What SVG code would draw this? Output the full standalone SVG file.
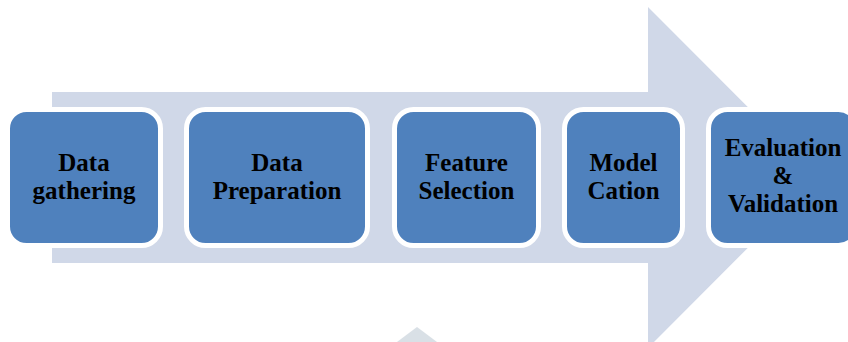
<svg xmlns="http://www.w3.org/2000/svg" width="848" height="342" viewBox="0 0 848 342">
  <style>
    .box { fill: #4f81bd; stroke: #ffffff; stroke-width: 5; }
    .lbl { font-family: "Liberation Serif", "Times New Roman", serif; font-weight: bold; font-size: 25px; fill: #000000; text-anchor: middle; }
  </style>
  <rect x="0" y="0" width="848" height="342" fill="#ffffff"/>
  <g id="connectors">
    <polygon id="big-arrow" points="52,92 648,92 648,7 818,177.5 648,348 648,263 52,263" fill="#d0d8e8"/>
    <polygon id="small-arrow" points="417,327 437,342 397,342" fill="#d9e0e6"/>
  </g>
  <g id="node1">
    <rect class="box" x="7.5" y="109.5" width="153" height="136" rx="19"/>
    <text class="lbl" x="84" y="171">Data</text>
    <text class="lbl" x="84" y="199">gathering</text>
  </g>
  <g id="node2">
    <rect class="box" x="186.5" y="109.5" width="181" height="136" rx="19"/>
    <text class="lbl" x="277" y="171">Data</text>
    <text class="lbl" x="277" y="199">Preparation</text>
  </g>
  <g id="node3">
    <rect class="box" x="394.5" y="109.5" width="144" height="136" rx="19"/>
    <text class="lbl" x="466.5" y="171">Feature</text>
    <text class="lbl" x="466.5" y="199">Selection</text>
  </g>
  <g id="node4">
    <rect class="box" x="564.5" y="109.5" width="118" height="136" rx="19"/>
    <text class="lbl" x="623.5" y="171">Model</text>
    <text class="lbl" x="623.5" y="199">Cation</text>
  </g>
  <g id="node5">
    <rect class="box" x="708.5" y="109.5" width="149" height="136" rx="19"/>
    <text class="lbl" x="783" y="156">Evaluation</text>
    <text class="lbl" x="783" y="184">&amp;</text>
    <text class="lbl" x="783" y="212">Validation</text>
  </g>
</svg>
